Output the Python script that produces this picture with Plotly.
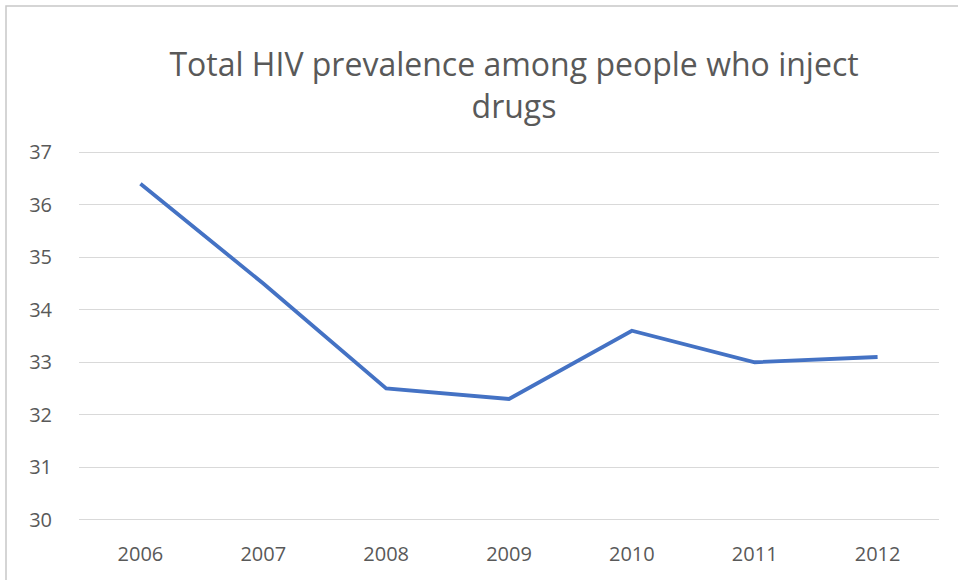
import plotly.graph_objects as go

years = ["2006", "2007", "2008", "2009", "2010", "2011", "2012"]
prevalence = [36.4, 34.5, 32.5, 32.3, 33.6, 33.0, 33.1]
y_ticks = [30, 31, 32, 33, 34, 35, 36, 37]

W, H = 958, 580
ml, mr, mt, mb = 79, 19, 147, 55
pw = W - ml - mr
ph = H - mt - mb

fig = go.Figure()
fig.add_trace(go.Scatter(
    x=years, y=prevalence, mode="lines",
    line=dict(color="#4472C4", width=3.8),
    showlegend=False, hoverinfo="x+y",
))

fig.update_layout(
    width=W, height=H,
    margin=dict(l=ml, r=mr, t=mt, b=mb, autoexpand=False),
    paper_bgcolor="white", plot_bgcolor="white",
    font=dict(family="Open Sans, sans-serif", color="#595959"),
    title=dict(
        text="Total HIV prevalence among people who inject<br>drugs",
        x=(514 - ml) / pw, xref="paper", xanchor="center",
        y=1 - 76 / H, yanchor="middle",
        font=dict(size=32, color="#595959"),
    ),
    xaxis=dict(
        type="category", range=[-0.5, 6.5], showgrid=False, zeroline=False,
        showline=False, ticks="", tickfont=dict(size=20, color="#595959"),
        ticklabelstandoff=15,
    ),
    yaxis=dict(
        range=[29.9, 37.1], tickvals=y_ticks, showgrid=True, gridcolor="#D9D9D9",
        gridwidth=1, zeroline=False, showline=False, ticks="",
        tickfont=dict(size=20, color="#595959"), ticklabelstandoff=26,
    ),
    shapes=[dict(
        type="rect", xref="paper", yref="paper",
        x0=(6 - ml) / pw, x1=(W + 10 - ml) / pw,
        y0=-(mb + 10) / ph, y1=1 + (mt - 6) / ph,
        line=dict(color="#C8C8C8", width=1.5), layer="below",
    )],
)

fig.write_html("out.html", config={"displayModeBar": False},
               post_script="document.body.style.margin='0';")
